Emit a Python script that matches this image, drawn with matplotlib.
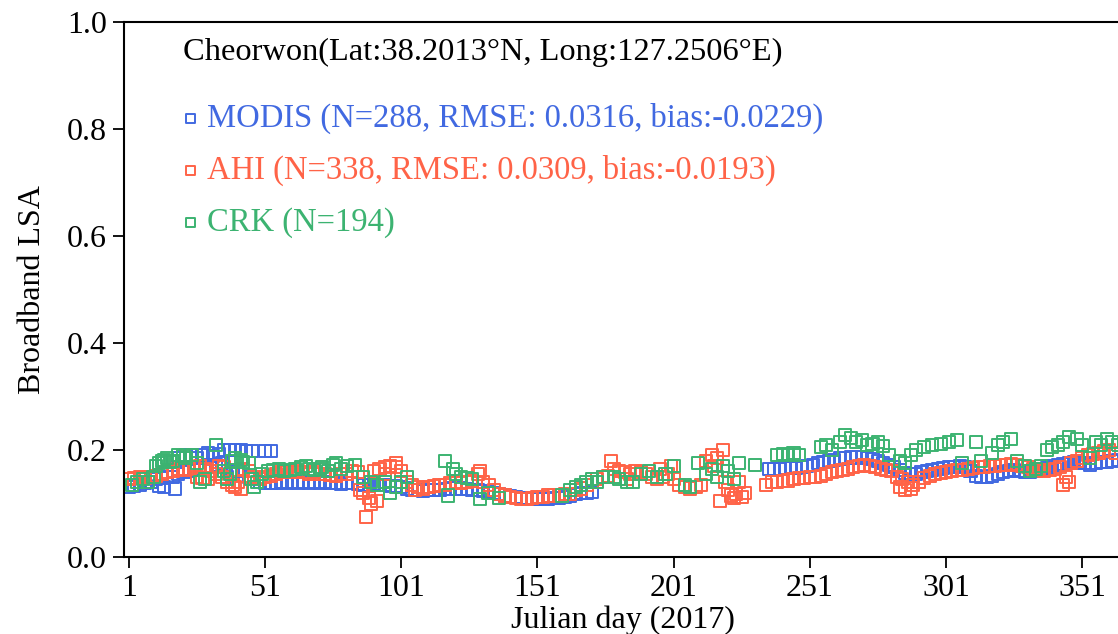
import matplotlib
matplotlib.use("Agg")
import matplotlib.pyplot as plt

plt.rcParams['font.family'] = ['Liberation Serif', 'DejaVu Serif']

# MODIS (blue)
modis_day = [1, 3, 5, 7, 9, 11, 13, 15, 17, 19, 21, 23, 25, 27, 29, 31, 33, 35,
             37, 39, 41, 43, 45, 47, 49, 51, 53, 55, 57, 59, 61, 63, 65, 67, 69,
             71, 73, 75, 77, 79, 81, 83, 85, 87, 89, 91, 93, 95, 97, 99, 101,
             103, 105, 107, 109, 111, 113, 115, 117, 119, 121, 123, 125, 127,
             129, 131, 133, 135, 137, 139, 141, 143, 145, 147, 149, 151, 153,
             155, 157, 159, 161, 163, 165, 167, 169, 171,
             12, 14, 18, 17, 19, 22, 24, 26, 28, 30, 32, 34, 36, 38, 40, 42, 44,
             46, 51, 53,
             236, 238, 240, 242, 244, 246, 248, 250, 252, 254, 256, 258, 260,
             262, 264, 266, 268, 270, 272, 274, 276, 278, 280, 282, 284, 286,
             288, 290, 292, 294, 296, 298, 300, 302, 304, 306, 308, 310, 312,
             314, 316, 318, 320, 322, 324, 326, 328, 330, 332, 334, 336, 338,
             340, 342, 344, 346, 348, 350, 352, 354, 356, 358, 360, 362, 364]
modis_lsa = [.130, .132, .135, .138, .140, .145, .148, .150, .150, .155, .158,
             .160, .162, .165, .168, .170, .172, .175, .150, .155, .160, .165,
             .150, .145, .140, .138, .138, .138, .140, .138, .140, .138, .140,
             .138, .140, .138, .140, .138, .138, .136, .138, .138, .136, .135,
             .135, .136, .135, .134, .133, .132, .130, .128, .126, .125, .124,
             .125, .125, .126, .127, .128, .128, .128, .127, .126, .125, .124,
             .122, .120, .117, .115, .113, .112, .110, .110, .108, .108, .108,
             .108, .110, .110, .112, .115, .118, .120, .120, .122,
             .133, .130, .128, .180, .185, .190, .190, .185, .190, .195, .188,
             .192, .200, .200, .200, .200, .198, .198, .198, .198,
             .165, .165, .165, .166, .166, .167, .168, .170, .172, .175, .178,
             .180, .182, .184, .185, .186, .186, .186, .185, .183, .180, .176,
             .172, .168, .162, .157, .155, .155, .158, .160, .163, .165, .167,
             .168, .168, .170, .168, .160, .152, .150, .150, .152, .155, .158,
             .160, .162, .160, .158, .158, .160, .163, .167, .170, .172, .174,
             .176, .178, .176, .175, .172, .175, .177, .178, .180, .182]

# AHI (red)
ahi_day = [1, 3, 5, 7, 9, 11, 13, 15, 17, 19, 21, 23, 25, 27, 29, 31, 33, 35,
           37, 39, 41, 43, 45, 47, 49, 51, 53, 55, 57, 59, 61, 63, 65, 67, 69,
           71, 73, 75, 77, 79, 81, 83, 85, 87, 89, 91, 93, 95, 97, 99, 101, 103,
           105, 107, 109, 111, 113, 115, 117, 119, 121, 123, 125, 127, 129, 131,
           133, 135, 137, 139, 141, 143, 145, 147, 149, 151, 153, 155, 157, 159,
           161, 163, 165, 167, 169, 171, 173, 175, 177, 179, 181, 183, 185, 187,
           189, 191, 193, 195, 197, 199, 201, 203, 205, 207, 209, 211, 213, 215,
           217, 219, 221, 223, 225, 227,
           235, 237, 239, 241, 243, 245, 247, 249, 251, 253, 255, 257, 259, 261,
           263, 265, 267, 269, 271, 273, 275, 277, 279, 281, 283, 285, 287, 289,
           291, 293, 295, 297, 299, 301, 303, 305, 307, 309, 311, 313, 315, 317,
           319, 321, 323, 325, 327, 329, 331, 333, 335, 337, 339, 341, 343, 345,
           347, 349, 351, 353, 355, 357, 359, 361, 363,
           88, 86, 90, 92, 40, 42, 34, 36, 26, 28, 30, 99, 95, 106, 130, 178,
           216, 218, 222, 224, 226, 220, 184, 196, 200, 284, 286, 288, 344, 346]
ahi_lsa = [.145, .148, .150, .148, .150, .152, .155, .158, .160, .165, .162,
           .165, .168, .170, .165, .160, .155, .150, .140, .135, .140, .165,
           .160, .150, .145, .150, .152, .155, .158, .160, .158, .160, .158,
           .155, .158, .155, .155, .153, .152, .155, .155, .160, .158, .120,
           .110, .160, .165, .168, .170, .168, .160, .140, .135, .130, .128,
           .130, .132, .135, .135, .138, .140, .138, .140, .142, .155, .140,
           .135, .125, .118, .115, .112, .110, .108, .108, .110, .112, .112,
           .115, .115, .115, .118, .118, .125, .128, .135, .140, .145, .150,
           .152, .165, .160, .158, .155, .160, .158, .155, .150, .145, .150,
           .155, .145, .135, .130, .128, .130, .135, .180, .190, .185, .200,
           .125, .110, .140, .120,
           .135, .140, .140, .142, .143, .145, .147, .148, .150, .150, .152,
           .155, .158, .160, .162, .165, .168, .170, .172, .170, .168, .165,
           .162, .160, .150, .145, .140, .135, .140, .148, .152, .155, .157,
           .158, .160, .162, .163, .165, .166, .168, .168, .170, .170, .172,
           .172, .173, .172, .170, .168, .165, .162, .160, .162, .165, .168,
           .150, .175, .180, .185, .190, .192, .195, .198, .200, .195,
           .075, .125, .100, .105, .130, .128, .170, .168, .150, .148, .145,
           .175, .155, .125, .160, .180, .170, .105, .115, .118, .112, .140,
           .145, .165, .170, .130, .125, .128, .135, .140]

# CRK (green)
crk_day = [2, 4, 6, 8, 10, 11, 12, 13, 14, 15, 16, 17, 19, 21, 22, 24, 26, 27,
           29, 33, 36, 37, 38, 39, 40, 42, 43, 45, 46, 47, 48, 50, 52, 54, 56,
           58, 60, 62, 64, 66, 67, 69, 71, 72, 74, 76, 77, 79, 81, 84, 87, 90,
           92, 95, 97, 99, 101, 103, 117, 120, 121, 118, 123, 125, 127, 130,
           133, 137, 160, 163, 165, 167, 169, 171, 173, 175, 179, 181, 184, 186,
           189, 192, 195, 198, 201, 205, 207, 210, 213, 215, 217, 219, 221, 223,
           225, 231, 239, 241, 243, 245, 247, 255, 257, 259, 262, 264, 266, 268,
           270, 272, 274, 276, 278, 280, 284, 286, 288, 290, 293, 296, 299, 302,
           305, 307, 312, 314, 318, 320, 322, 325, 327, 330, 332, 334, 336, 338,
           340, 342, 344, 346, 349, 351, 354, 356, 358, 360, 362, 364]
crk_lsa = [.135, .140, .145, .140, .150, .170, .175, .180, .182, .185, .178,
           .180, .190, .188, .185, .190, .175, .140, .145, .210, .160, .145,
           .155, .180, .185, .182, .178, .175, .145, .130, .140, .155, .160,
           .163, .165, .160, .162, .165, .168, .170, .165, .162, .165, .168,
           .160, .172, .175, .165, .170, .172, .150, .140, .135, .140, .120,
           .130, .140, .150, .180, .165, .155, .115, .150, .148, .145, .108,
           .120, .110, .115, .125, .130, .135, .140, .145, .140, .150, .150,
           .145, .140, .140, .155, .160, .150, .155, .170, .135, .130, .175,
           .155, .165, .150, .170, .160, .145, .175, .172, .190, .192, .190,
           .195, .190, .205, .210, .200, .215, .228, .222, .215, .218, .210,
           .212, .215, .208, .190, .180, .175, .190, .200, .205, .210, .212,
           .215, .218, .175, .215, .180, .195, .210, .215, .220, .180, .170,
           .160, .165, .170, .200, .205, .210, .215, .225, .220, .210, .185,
           .215, .210, .220, .215, .210]

labels = ['MODIS (N=288, RMSE: 0.0316, bias:-0.0229)',
          'AHI (N=338, RMSE: 0.0309, bias:-0.0193)',
          'CRK (N=194)']
colors = ['#4169E1', '#FF6347', '#3CB371']
site_title = 'Cheorwon(Lat:38.2013\u00b0N, Long:127.2506\u00b0E)'

fig = plt.figure(figsize=(11.18, 6.34), dpi=100)
ax = fig.add_axes([0.1105, 0.1215, 0.894, 0.8438])

series = [(modis_day, modis_lsa), (ahi_day, ahi_lsa), (crk_day, crk_lsa)]
for (d, v), c, lab in zip(series, colors, labels):
    ax.scatter(d, v, s=76, marker='s', facecolors='none', edgecolors=c,
               linewidths=1.4, label=lab)

ax.set_xlim(-1, 366)
ax.set_ylim(0, 1.0)
ax.set_xticks([1, 51, 101, 151, 201, 251, 301, 351])
ax.set_yticks([0.0, 0.2, 0.4, 0.6, 0.8, 1.0])
ax.set_yticklabels(['0.0', '0.2', '0.4', '0.6', '0.8', '1.0'])
ax.tick_params(direction='out', length=8, width=1.3, labelsize=23, pad=4)
ax.spines['right'].set_visible(False)
for s in ['left', 'top', 'bottom']:
    ax.spines[s].set_linewidth(1.5)

ax.set_xlabel('Julian day (2017)', fontsize=23, labelpad=2)
ax.set_ylabel('Broadband LSA', fontsize=23, labelpad=14)

ax.text(0.059, 0.944, site_title, transform=ax.transAxes, fontsize=23.4,
        va='center', ha='left')

leg = ax.legend(loc='upper left', bbox_to_anchor=(0.038, 0.879),
                frameon=False, fontsize=23.5, markerscale=0.75,
                handletextpad=0.1, labelspacing=0.64, borderpad=0,
                handlelength=0.8, labelcolor='markeredgecolor')

fig.savefig('out.png', dpi=100)
